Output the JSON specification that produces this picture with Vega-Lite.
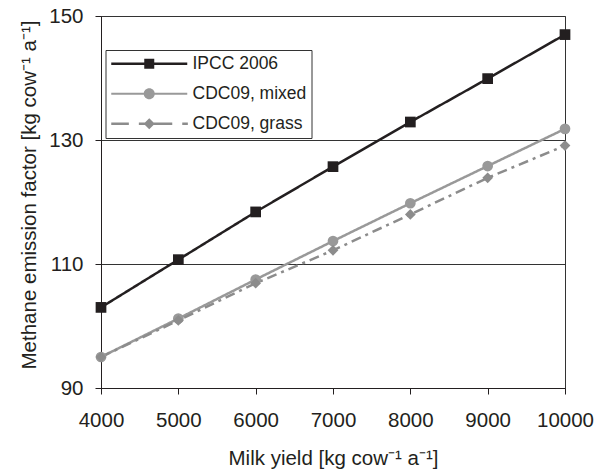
{
  "$schema": "https://vega.github.io/schema/vega-lite/v6.json",
  "width": 464,
  "height": 372,
  "autosize": {"type": "none"},
  "padding": {"left": 101, "top": 16, "right": 44, "bottom": 84},
  "background": "white",
  "config": {
    "view": {"stroke": "#333333", "strokeWidth": 1},
    "axis": {
      "labelFont": "Liberation Sans",
      "labelFontSize": 20.5,
      "labelColor": "#231f20",
      "labelFlush": false,
      "labelOverlap": false,
      "titleFont": "Liberation Sans",
      "titleFontSize": 20.5,
      "titleFontWeight": "normal",
      "titleColor": "#231f20",
      "domainColor": "#231f20",
      "tickColor": "#231f20"
    }
  },
  "data": {
    "values": [
      {"milk": 4000, "ef": 103.0, "series": "IPCC 2006"},
      {"milk": 5000, "ef": 110.7, "series": "IPCC 2006"},
      {"milk": 6000, "ef": 118.4, "series": "IPCC 2006"},
      {"milk": 7000, "ef": 125.7, "series": "IPCC 2006"},
      {"milk": 8000, "ef": 132.9, "series": "IPCC 2006"},
      {"milk": 9000, "ef": 139.9, "series": "IPCC 2006"},
      {"milk": 10000, "ef": 147.0, "series": "IPCC 2006"},
      {"milk": 4000, "ef": 95.0, "series": "CDC09, mixed"},
      {"milk": 5000, "ef": 101.2, "series": "CDC09, mixed"},
      {"milk": 6000, "ef": 107.5, "series": "CDC09, mixed"},
      {"milk": 7000, "ef": 113.7, "series": "CDC09, mixed"},
      {"milk": 8000, "ef": 119.8, "series": "CDC09, mixed"},
      {"milk": 9000, "ef": 125.8, "series": "CDC09, mixed"},
      {"milk": 10000, "ef": 131.8, "series": "CDC09, mixed"},
      {"milk": 4000, "ef": 95.0, "series": "CDC09, grass"},
      {"milk": 5000, "ef": 100.9, "series": "CDC09, grass"},
      {"milk": 6000, "ef": 106.9, "series": "CDC09, grass"},
      {"milk": 7000, "ef": 112.2, "series": "CDC09, grass"},
      {"milk": 8000, "ef": 118.0, "series": "CDC09, grass"},
      {"milk": 9000, "ef": 123.9, "series": "CDC09, grass"},
      {"milk": 10000, "ef": 129.1, "series": "CDC09, grass"}
    ]
  },
  "encoding": {
    "x": {
      "field": "milk",
      "type": "quantitative",
      "scale": {"domain": [4000, 10000], "nice": false, "zero": false},
      "axis": {
        "values": [4000, 5000, 6000, 7000, 8000, 9000, 10000],
        "format": "d",
        "grid": false,
        "tickSize": 6,
        "labelPadding": 16,
        "titlePadding": 18,
        "title": "Milk yield [kg cow⁻¹ a⁻¹]"
      }
    },
    "y": {
      "field": "ef",
      "type": "quantitative",
      "scale": {"domain": [90, 150], "nice": false, "zero": false},
      "axis": {
        "values": [90, 110, 130, 150],
        "grid": true,
        "gridColor": "#333333",
        "gridWidth": 1,
        "tickSize": 6,
        "labelPadding": 12,
        "titlePadding": 9,
        "titleY": 178.5,
        "title": "Methane emission factor [kg cow⁻¹ a⁻¹]"
      }
    }
  },
  "layer": [
    {
      "mark": {"type": "line", "strokeWidth": 2.5},
      "encoding": {
        "color": {
          "field": "series",
          "type": "nominal",
          "scale": {"domain": ["IPCC 2006", "CDC09, mixed", "CDC09, grass"], "range": ["#231f20", "#999999", "#8c8c8c"]},
          "legend": null
        },
        "strokeDash": {
          "field": "series",
          "type": "nominal",
          "scale": {"domain": ["IPCC 2006", "CDC09, mixed", "CDC09, grass"], "range": [[1, 0], [1, 0], [10, 5, 3, 5]]},
          "legend": null
        }
      }
    },
    {
      "mark": {"type": "point", "filled": true, "opacity": 1, "size": 115},
      "encoding": {
        "color": {
          "field": "series",
          "type": "nominal",
          "scale": {"domain": ["IPCC 2006", "CDC09, mixed", "CDC09, grass"], "range": ["#231f20", "#999999", "#8c8c8c"]},
          "legend": null
        },
        "shape": {
          "field": "series",
          "type": "nominal",
          "scale": {"domain": ["IPCC 2006", "CDC09, mixed", "CDC09, grass"], "range": ["square", "circle", "diamond"]},
          "legend": null
        }
      }
    },
    {
      "mark": {"type": "point", "filled": true, "opacity": 0},
      "encoding": {
        "color": {
          "field": "series",
          "type": "nominal",
          "scale": {"domain": ["IPCC 2006", "CDC09, mixed", "CDC09, grass"], "range": ["#231f20", "#999999", "#8c8c8c"]},
          "legend": {
            "title": null,
            "orient": "none",
            "legendX": 4.5,
            "legendY": 34,
            "padding": 5,
            "strokeColor": "#333333",
            "fillColor": "white",
            "symbolSize": 256,
            "symbolOffset": 0,
            "symbolOpacity": 1,
            "symbolStrokeWidth": 0,
            "labelOffset": 64.5,
            "rowPadding": 11,
            "labelFont": "Liberation Sans",
            "labelFontSize": 17.5,
            "labelColor": "#231f20",
            "labelLimit": 0
          }
        },
        "shape": {
          "field": "series",
          "type": "nominal",
          "scale": {
            "domain": ["IPCC 2006", "CDC09, mixed", "CDC09, grass"],
            "range": [
              "M-1,-0.15H8.5V0.15H-1Z M3.125,-0.625H4.375V0.625H3.125Z",
              "M-1,-0.14H8.5V0.14H-1Z M4.44,0A0.69,0.69 0 1,1 3.06,0A0.69,0.69 0 1,1 4.44,0Z",
              "M-1,-0.16H1.2V0.16H-1Z M2.45,-0.16H6.625V0.16H2.45Z M7.875,-0.16H8.575V0.16H7.875Z M3.75,-0.69L4.44,0L3.75,0.69L3.06,0Z"
            ]
          },
          "legend": {
            "title": null,
            "orient": "none",
            "legendX": 4.5,
            "legendY": 34,
            "padding": 5,
            "strokeColor": "#333333",
            "fillColor": "white",
            "symbolSize": 256,
            "symbolOffset": 0,
            "symbolOpacity": 1,
            "symbolStrokeWidth": 0,
            "labelOffset": 64.5,
            "rowPadding": 11,
            "labelFont": "Liberation Sans",
            "labelFontSize": 17.5,
            "labelColor": "#231f20",
            "labelLimit": 0
          }
        }
      }
    }
  ],
  "resolve": {"scale": {"shape": "independent", "color": "independent", "strokeDash": "independent"}}
}
